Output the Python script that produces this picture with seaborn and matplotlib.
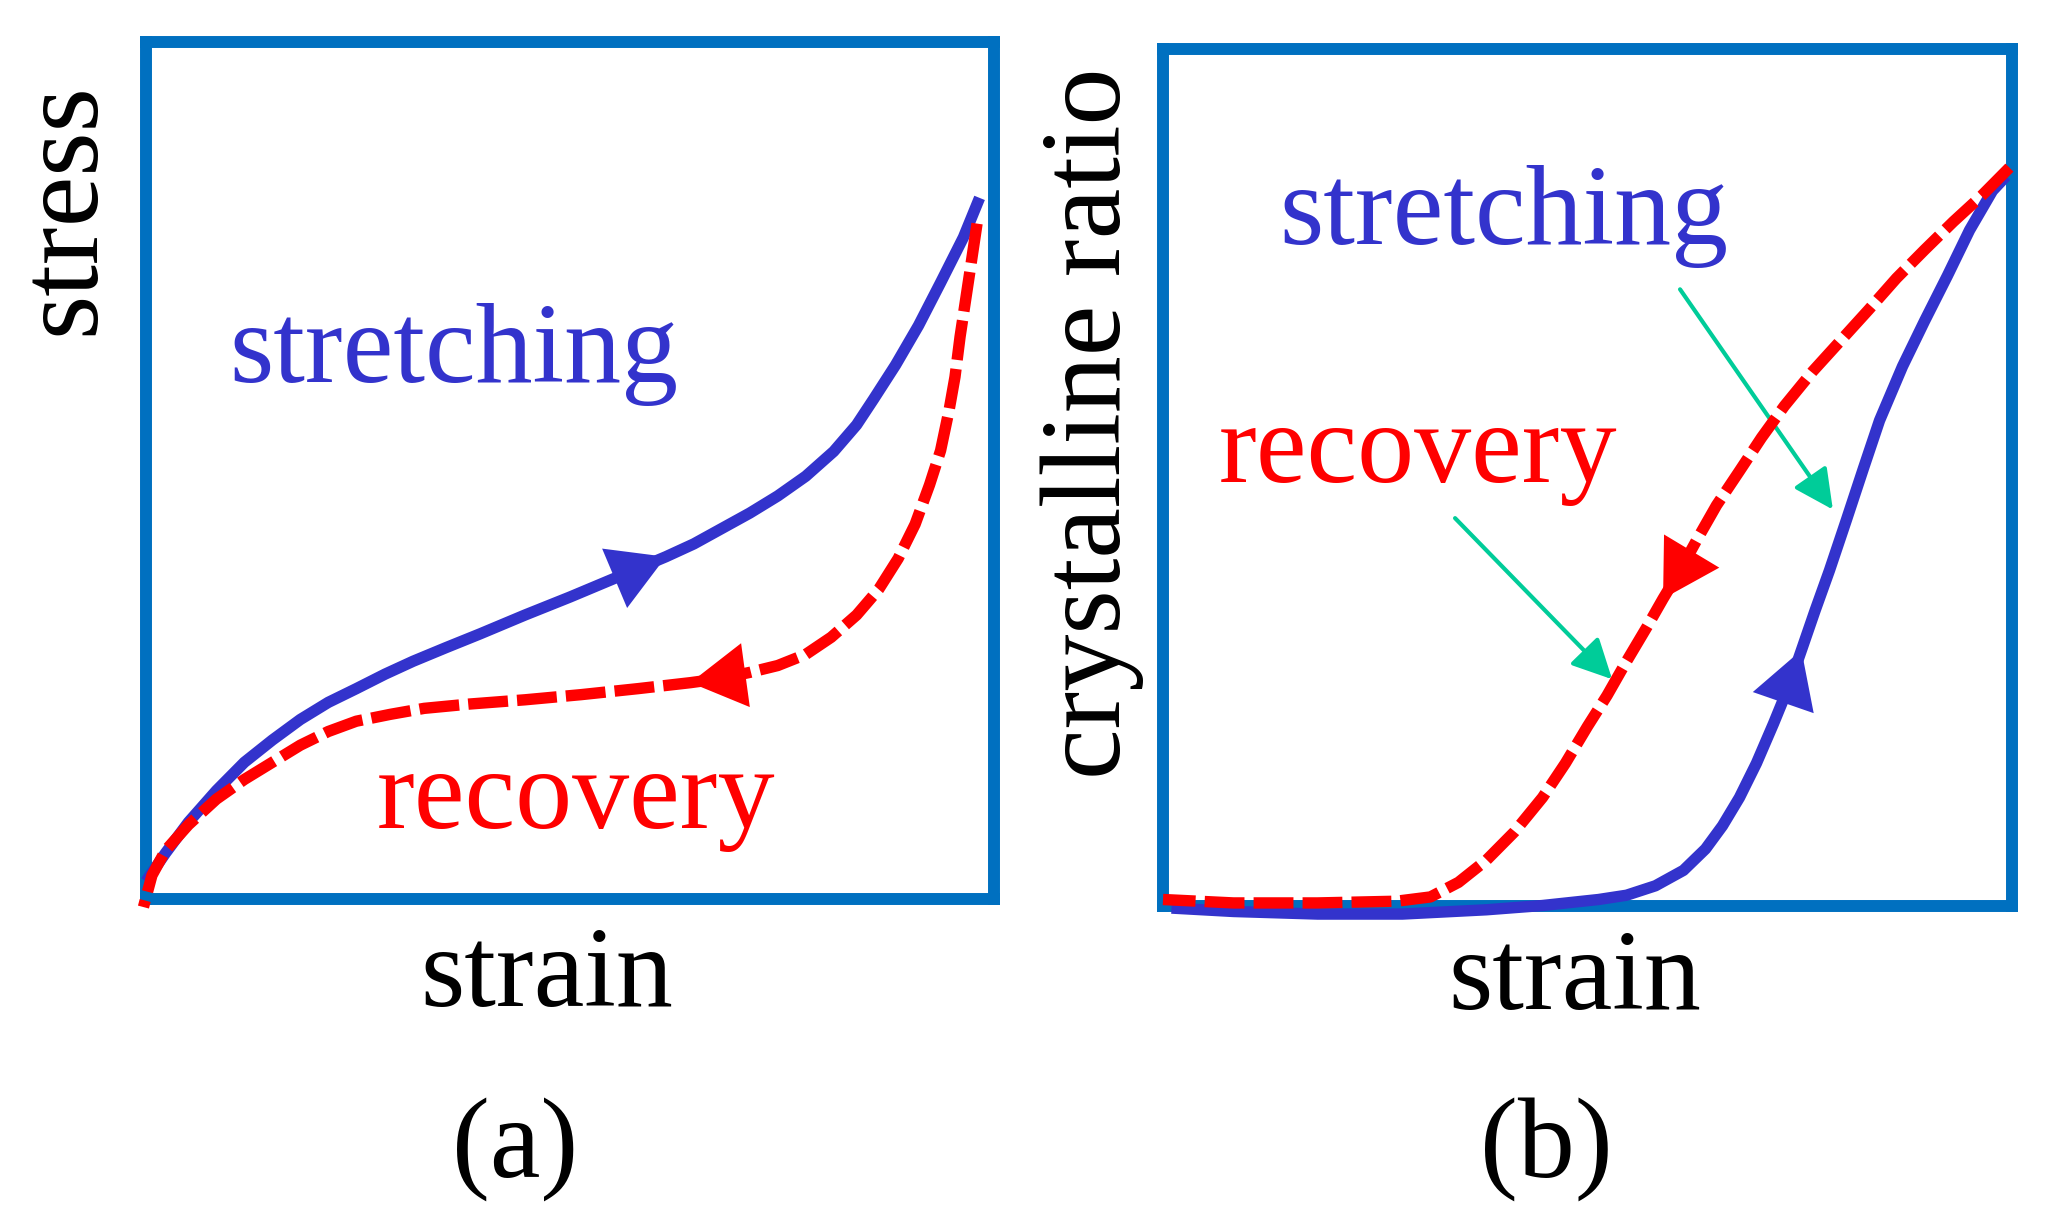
import matplotlib
matplotlib.use("Agg")
import matplotlib.pyplot as plt
import seaborn as sns

# --- data (axes fractions) ---
# panel (a): stress vs strain
a_stretch_x = [0.000, 0.023, 0.050, 0.083, 0.116, 0.149, 0.182, 0.215, 0.248, 0.282, 0.315, 0.354,
               0.394, 0.447, 0.500, 0.553, 0.613, 0.646, 0.679, 0.712, 0.745, 0.778, 0.811, 0.838,
               0.858, 0.884, 0.911, 0.937, 0.964, 0.983]
a_stretch_y = [0.020, 0.053, 0.089, 0.126, 0.159, 0.185, 0.209, 0.229, 0.245, 0.262, 0.277, 0.293,
               0.309, 0.331, 0.352, 0.374, 0.399, 0.414, 0.432, 0.450, 0.470, 0.493, 0.522, 0.553,
               0.583, 0.623, 0.669, 0.719, 0.772, 0.818]
a_recover_x = [0.980, 0.974, 0.967, 0.960, 0.954, 0.947, 0.937, 0.924, 0.907, 0.887, 0.864, 0.838,
               0.808, 0.778, 0.745, 0.712, 0.679, 0.642, 0.580, 0.513, 0.447, 0.381, 0.328, 0.288,
               0.248, 0.215, 0.182, 0.149, 0.116, 0.083, 0.050, 0.023, 0.007, -0.003]
a_recover_y = [0.788, 0.748, 0.702, 0.656, 0.609, 0.570, 0.523, 0.483, 0.437, 0.397, 0.361, 0.331,
               0.305, 0.285, 0.272, 0.264, 0.257, 0.252, 0.245, 0.238, 0.232, 0.227, 0.222, 0.215,
               0.207, 0.195, 0.179, 0.159, 0.139, 0.116, 0.086, 0.056, 0.027, -0.010]

# panel (b): crystalline ratio vs strain
b_stretch_x = [0.010, 0.083, 0.182, 0.282, 0.381, 0.447, 0.513, 0.546, 0.580, 0.613, 0.639, 0.659,
               0.679, 0.699, 0.719, 0.738, 0.752, 0.768, 0.785, 0.805, 0.825, 0.844, 0.871, 0.897,
               0.924, 0.950, 0.977, 0.993]
b_stretch_y = [-0.003, -0.007, -0.010, -0.010, -0.005, 0.000, 0.007, 0.012, 0.023, 0.041, 0.066, 0.093,
               0.126, 0.166, 0.212, 0.258, 0.298, 0.344, 0.391, 0.450, 0.510, 0.566, 0.629, 0.682,
               0.735, 0.788, 0.834, 0.851]
b_recover_x = [0.997, 0.964, 0.931, 0.897, 0.864, 0.831, 0.798, 0.765, 0.732, 0.705, 0.679, 0.652,
               0.629, 0.609, 0.589, 0.570, 0.546, 0.523, 0.500, 0.474, 0.447, 0.414, 0.381, 0.348,
               0.315, 0.275, 0.182, 0.083, 0.000]
b_recover_y = [0.861, 0.828, 0.798, 0.765, 0.732, 0.695, 0.659, 0.623, 0.583, 0.546, 0.507, 0.467,
               0.427, 0.391, 0.358, 0.325, 0.285, 0.245, 0.209, 0.166, 0.126, 0.086, 0.053, 0.027,
               0.010, 0.005, 0.003, 0.003, 0.007]

# direction arrows: index of the tip point on each curve
a_stretch_arrow = 16
a_recover_arrow = 17
b_stretch_arrow = 16
b_recover_arrow = 14

# green pointer arrows in (b): (start, tip)
b_pointer_start = [(0.609, 0.719), (0.344, 0.452)]
b_pointer_tip = [(0.789, 0.462), (0.529, 0.264)]

BLUE = "#3333CC"
RED = "#FF0000"
FRAME = "#0070C0"
GREEN = "#00CC99"
W, H = 2056, 1227

sns.set_style("white")
plt.rcParams["font.family"] = ["Liberation Serif", "DejaVu Serif"]
plt.rcParams["text.color"] = "black"

fig = plt.figure(figsize=(W / 100, H / 100), dpi=100)
ax_a = fig.add_axes([146 / W, 1 - 898.5 / H, 848 / W, 856.5 / H])
ax_b = fig.add_axes([1163 / W, 1 - 905.5 / H, 849 / W, 857 / H])


def setup(ax):
    ax.set_xlim(0, 1)
    ax.set_ylim(0, 1)
    ax.set_xticks([])
    ax.set_yticks([])
    ax.set_xlabel("")
    ax.set_ylabel("")
    for sp in ax.spines.values():
        sp.set_visible(True)
        sp.set_color(FRAME)
        sp.set_linewidth(8.6)
        sp.set_capstyle("projecting")


def draw_curve(ax, xs, ys, color, dashed, z):
    if dashed:
        kw = dict(linestyle=(0, (3.5, 0.8)), dash_capstyle="butt")
    else:
        kw = dict(solid_capstyle="butt", solid_joinstyle="round")
    sns.lineplot(x=xs, y=ys, sort=False, ax=ax, color=color, lw=8.2,
                 estimator=None, clip_on=False, zorder=z, **kw)


def direction_arrow(ax, xs, ys, i, color):
    ax.annotate("", xy=(xs[i], ys[i]), xytext=(xs[i - 1], ys[i - 1]),
                arrowprops=dict(arrowstyle="-|>,head_length=1,head_width=0.58",
                                mutation_scale=40, color=color, lw=0,
                                shrinkA=0, shrinkB=0), zorder=6)


def px(x, y):
    return x / W, 1 - y / H


# panel (a)
draw_curve(ax_a, a_stretch_x, a_stretch_y, BLUE, False, 4)
draw_curve(ax_a, a_recover_x, a_recover_y, RED, True, 5)
direction_arrow(ax_a, a_stretch_x, a_stretch_y, a_stretch_arrow, BLUE)
direction_arrow(ax_a, a_recover_x, a_recover_y, a_recover_arrow, RED)
setup(ax_a)

# panel (b)
for (sx, sy), (tx, ty) in zip(b_pointer_start, b_pointer_tip):
    ax_b.annotate("", xy=(tx, ty), xytext=(sx, sy),
                  arrowprops=dict(arrowstyle="-|>,head_length=1.22,head_width=0.61",
                                  mutation_scale=20, color=GREEN, lw=3,
                                  shrinkA=0, shrinkB=0), zorder=3)
draw_curve(ax_b, b_stretch_x, b_stretch_y, BLUE, False, 4)
draw_curve(ax_b, b_recover_x, b_recover_y, RED, True, 5)
direction_arrow(ax_b, b_stretch_x, b_stretch_y, b_stretch_arrow, BLUE)
direction_arrow(ax_b, b_recover_x, b_recover_y, b_recover_arrow, RED)
setup(ax_b)

fs = 82
serif = ["Liberation Serif", "DejaVu Serif"]
fig.text(*px(229, 382), "stretching", color=BLUE, fontsize=fs, family=serif, ha="left", va="baseline")
fig.text(*px(377, 828), "recovery", color=RED, fontsize=fs, family=serif, ha="left", va="baseline")
fig.text(*px(1279, 244), "stretching", color=BLUE, fontsize=fs, family=serif, ha="left", va="baseline")
fig.text(*px(1219, 482), "recovery", color=RED, fontsize=fs, family=serif, ha="left", va="baseline")

fig.text(*px(547, 1006), "strain", fontsize=fs, family=serif, ha="center", va="baseline")
fig.text(*px(1575, 1009), "strain", fontsize=fs, family=serif, ha="center", va="baseline")
fig.text(*px(93, 209), "stress", fontsize=fs, family=serif, rotation=90, rotation_mode="anchor",
         ha="center", va="baseline")
fig.text(*px(1120, 423), "crystalline ratio", fontsize=fs, family=serif, rotation=90,
         rotation_mode="anchor", ha="center", va="baseline")
fig.text(*px(515, 1177), "(a)", fontsize=fs, family=serif, ha="center", va="baseline")
fig.text(*px(1546, 1177), "(b)", fontsize=fs, family=serif, ha="center", va="baseline")

fig.savefig("out.png", dpi=100)
